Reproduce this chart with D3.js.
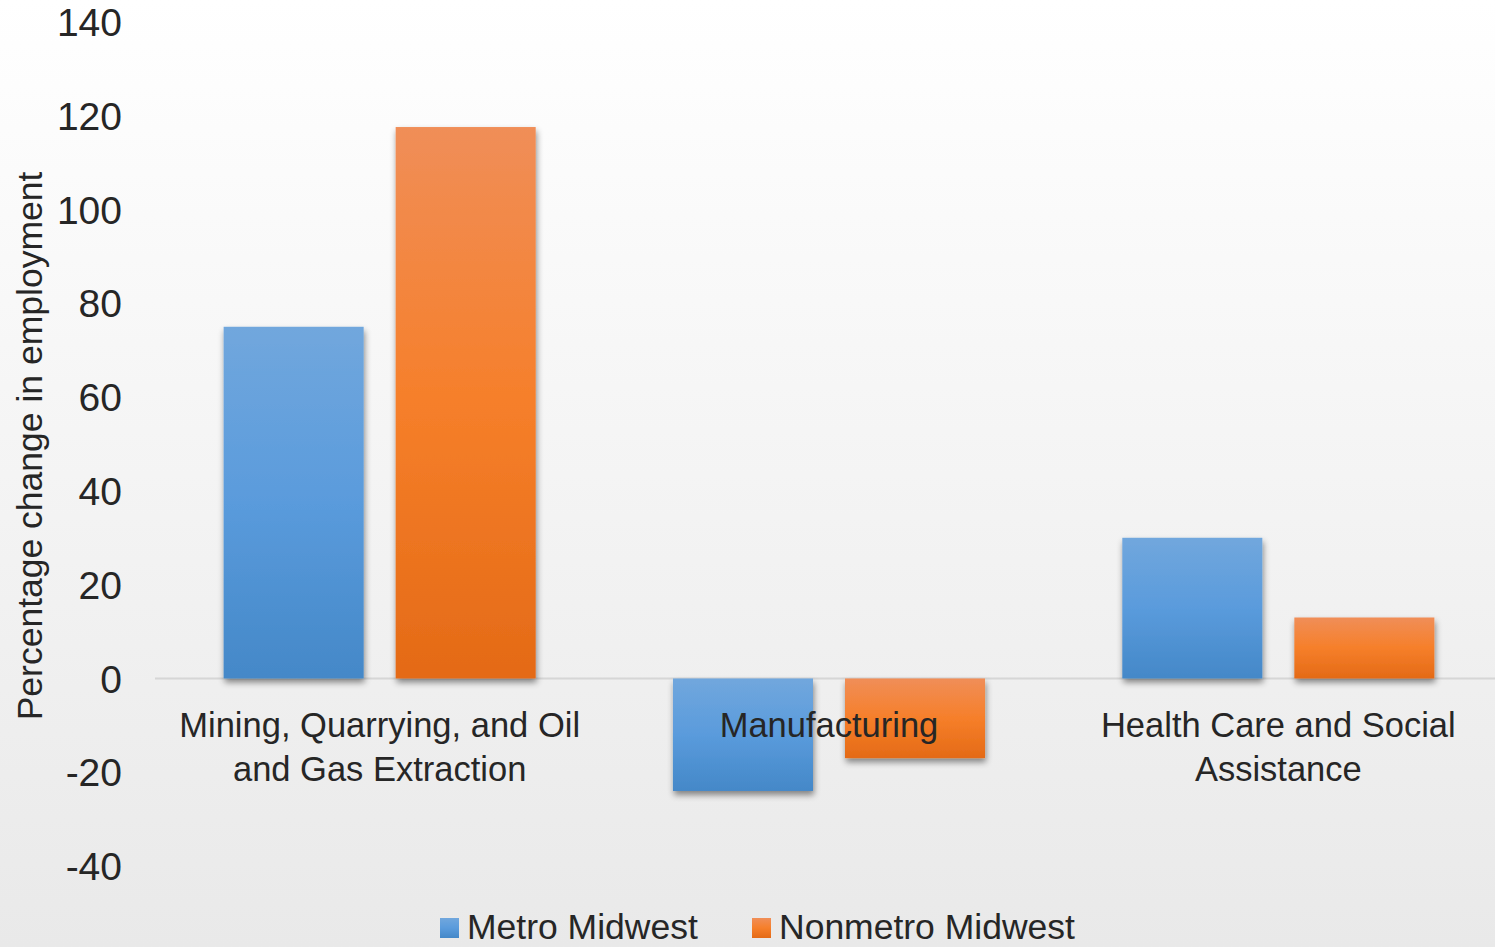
<!DOCTYPE html>
<html>
<head>
<meta charset="utf-8">
<script src="https://cdn.jsdelivr.net/npm/d3@7"></script>
<style>
  html, body { margin: 0; padding: 0; overflow: hidden; background: #fff; }
  svg { display: block; }
</style>
</head>
<body>
<svg id="chart" width="1495" height="947"></svg>
<script>
// Employment change by industry, Midwest metro vs. nonmetro
const categories = [
  ["Mining, Quarrying, and Oil", "and Gas Extraction"],
  ["Manufacturing"],
  ["Health Care and Social", "Assistance"]
];
const seriesNames = ["Metro Midwest", "Nonmetro Midwest"];
const metroValues = [75, -24, 30];
const nonmetroValues = [117.6, -17, 13];
const yTicks = [-40, -20, 0, 20, 40, 60, 80, 100, 120, 140];
const yTitle = "Percentage change in employment";

const W = 1495, H = 947;
const margin = { left: 155, right: -8 };

const svg = d3.select("#chart");
const defs = svg.append("defs");

// Background: soft vertical fade
const bg = defs.append("linearGradient").attr("id", "bg")
  .attr("x1", 0).attr("y1", 0).attr("x2", 0).attr("y2", 1);
bg.append("stop").attr("offset", "0%").attr("stop-color", "#ffffff");
bg.append("stop").attr("offset", "100%").attr("stop-color", "#e9e9e9");
svg.append("rect").attr("width", W).attr("height", H).attr("fill", "url(#bg)");

// Bar fills
const fills = [
  { id: "gBlue", stops: ["#71a7dd", "#5a9bdc", "#4488c8"] },
  { id: "gOrange", stops: ["#f08e58", "#f67f2a", "#e46a16"] }
];
fills.forEach(f => {
  const g = defs.append("linearGradient").attr("id", f.id)
    .attr("x1", 0).attr("y1", 0).attr("x2", 0).attr("y2", 1);
  f.stops.forEach((c, i) => g.append("stop")
    .attr("offset", (i * 50) + "%").attr("stop-color", c));
});

const shadow = defs.append("filter").attr("id", "shadow")
  .attr("x", "-20%").attr("y", "-20%").attr("width", "140%").attr("height", "150%");
shadow.append("feDropShadow").attr("dx", 1).attr("dy", 4)
  .attr("stdDeviation", 3).attr("flood-color", "#000").attr("flood-opacity", 0.45);

const y = d3.scaleLinear().domain([-40, 140]).range([866, 22]);

const x0 = d3.scaleBand()
  .domain(d3.range(categories.length))
  .range([margin.left, W - margin.right])
  .padding(0);

const x1 = d3.scaleBand()
  .domain(seriesNames)
  .range([0, x0.bandwidth()])
  .paddingInner(0.186)
  .paddingOuter(0.399);

const color = d3.scaleOrdinal().domain(seriesNames).range(["url(#gBlue)", "url(#gOrange)"]);

const textColor = "#262626";
const font = "'Liberation Sans', Arial, sans-serif";

// Y axis labels (no axis line), plain hyphen for negatives
const yAxis = d3.axisLeft(y).tickValues(yTicks).tickSize(0).tickPadding(0)
  .tickFormat(d => String(d));
const yg = svg.append("g").attr("transform", "translate(122,0)").call(yAxis);
yg.select(".domain").remove();
yg.selectAll("text")
  .attr("fill", textColor)
  .style("font-family", font)
  .style("font-size", "39px")
  .attr("dy", "0.35em");

// Y axis title
svg.append("text")
  .attr("transform", "translate(30,446) rotate(-90)")
  .attr("text-anchor", "middle")
  .attr("dy", "0.35em")
  .attr("fill", textColor)
  .style("font-family", font)
  .style("font-size", "35.5px")
  .text(yTitle);

// Zero line
svg.append("line")
  .attr("x1", margin.left).attr("x2", W)
  .attr("y1", y(0)).attr("y2", y(0))
  .attr("stroke", "#d6d6d6").attr("stroke-width", 2);

// Bars
const rows = categories.map((c, i) => ({
  i,
  values: [
    { key: seriesNames[0], value: metroValues[i] },
    { key: seriesNames[1], value: nonmetroValues[i] }
  ]
}));

const groups = svg.append("g").selectAll("g").data(rows).join("g")
  .attr("transform", d => `translate(${x0(d.i)},0)`);

groups.selectAll("rect").data(d => d.values).join("rect")
  .attr("x", d => x1(d.key))
  .attr("width", x1.bandwidth())
  .attr("y", d => y(Math.max(0, d.value)))
  .attr("height", d => Math.abs(y(d.value) - y(0)))
  .attr("fill", d => color(d.key))
  .attr("filter", "url(#shadow)");

// Category labels
const labels = svg.append("g").selectAll("text").data(rows).join("text")
  .attr("x", d => x0(d.i) + x0.bandwidth() / 2)
  .attr("y", 737)
  .attr("text-anchor", "middle")
  .attr("fill", textColor)
  .style("font-family", font)
  .style("font-size", "34.5px");
labels.selectAll("tspan").data(d => categories[d.i]).join("tspan")
  .attr("x", function() { return d3.select(this.parentNode).attr("x"); })
  .attr("dy", (d, k) => k === 0 ? 0 : 44)
  .text(d => d);

// Legend
const legendX = [440, 752];
const legend = svg.append("g").selectAll("g").data(seriesNames).join("g")
  .attr("transform", (d, i) => `translate(${legendX[i]},0)`);
legend.append("rect")
  .attr("x", 0).attr("y", 918).attr("width", 19).attr("height", 20)
  .attr("fill", d => color(d));
legend.append("text")
  .attr("x", 27).attr("y", 939)
  .attr("fill", textColor)
  .style("font-family", font)
  .style("font-size", "35.5px")
  .text(d => d);
</script>
</body>
</html>
